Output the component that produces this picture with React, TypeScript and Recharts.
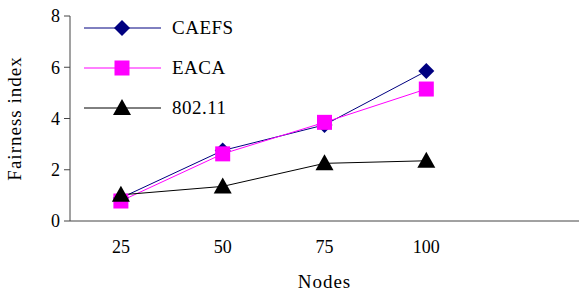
import {
  LineChart,
  Line,
  XAxis,
  YAxis,
} from 'recharts'

const nodes = ['25', '50', '75', '100', '']
const caefs = [0.9, 2.75, 3.75, 5.85, null]
const eaca = [0.78, 2.62, 3.85, 5.15, null]
const ieee80211 = [1.02, 1.35, 2.25, 2.35, null]
const yTicks = [0, 2, 4, 6, 8]
const bandTicks = [0, 1, 2, 3, 4, 5]

const series = [
  { name: 'CAEFS', values: caefs, color: '#000080', shape: 'diamond' },
  { name: 'EACA', values: eaca, color: '#ff00ff', shape: 'square' },
  { name: '802.11', values: ieee80211, color: '#000000', shape: 'triangle' },
]

const data = nodes.map((n, i) => ({
  nodes: n,
  CAEFS: caefs[i],
  EACA: eaca[i],
  '802.11': ieee80211[i],
}))

const FONT = '"Liberation Serif", "Times New Roman", Tinos, "DejaVu Serif", serif'

const Marker = ({ cx, cy, shape, color }: any) => {
  if (cx == null || cy == null) return null
  if (shape === 'diamond') {
    const r = 8
    return (
      <polygon
        points={`${cx},${cy - r} ${cx + r},${cy} ${cx},${cy + r} ${cx - r},${cy}`}
        fill={color}
      />
    )
  }
  if (shape === 'square') {
    const s = 7.5
    return <rect x={cx - s} y={cy - s} width={s * 2} height={s * 2} fill={color} />
  }
  const w = 9
  return (
    <polygon
      points={`${cx},${cy - 9} ${cx + w},${cy + 7} ${cx - w},${cy + 7}`}
      fill={color}
    />
  )
}

const LegendBox = () => (
  <div style={{ position: 'absolute', left: 84, top: 8, fontFamily: FONT }}>
    {series.map((s) => (
      <div
        key={s.name}
        style={{
          display: 'flex',
          alignItems: 'center',
          height: 40,
        }}
      >
        <svg width={80} height={20}>
          <line x1={0} y1={10} x2={77} y2={10} stroke={s.color} strokeWidth={1} />
          <Marker cx={38} cy={10} shape={s.shape} color={s.color} />
        </svg>
        <span style={{ fontSize: 19, marginLeft: 8, color: '#000', letterSpacing: 0.5 }}>{s.name}</span>
      </div>
    ))}
  </div>
)

const App = () => {
  return (
    <div
      style={{
        position: 'absolute',
        left: 0,
        top: 0,
        width: 587,
        height: 293,
        background: '#fff',
        fontFamily: FONT,
      }}
    >
      <LineChart
        width={587}
        height={293}
        data={data}
        margin={{ top: 16, right: 8, bottom: 0, left: 0 }}
        style={{ fontFamily: FONT }}
      >
        <XAxis
          xAxisId="axis0"
          type="number"
          domain={[0, 5]}
          ticks={bandTicks}
          tick={false}
          tickSize={7}
          height={1}
          stroke="#444"
          allowDataOverflow
        />
        <XAxis
          xAxisId="labels"
          dataKey="nodes"
          scale="band"
          axisLine={false}
          tickLine={false}
          tickMargin={12}
          height={71}
          tick={{ fill: '#000', fontSize: 18, fontFamily: FONT }}
          label={{
            value: 'Nodes',
            position: 'insideBottom',
            offset: 5,
            style: { fill: '#000', fontSize: 19, letterSpacing: 1, fontFamily: FONT },
          }}
        />
        <YAxis
          domain={[0, 8]}
          ticks={yTicks}
          width={70}
          tickSize={6}
          tickMargin={4}
          stroke="#444"
          tick={{ fill: '#000', fontSize: 18, fontFamily: FONT }}
          label={{
            value: 'Fairness index',
            angle: -90,
            position: 'insideLeft',
            offset: 14,
            style: { textAnchor: 'middle', fill: '#000', fontSize: 19, letterSpacing: 1, fontFamily: FONT },
          }}
        />
        {series.map((s) => (
          <Line
            key={s.name}
            xAxisId="labels"
            dataKey={s.name}
            stroke={s.color}
            strokeWidth={1}
            isAnimationActive={false}
            dot={(p: any) => (
              <Marker key={`${s.name}-${p.index}`} cx={p.cx} cy={p.cy} shape={s.shape} color={s.color} />
            )}
            activeDot={false}
          />
        ))}
      </LineChart>
      <LegendBox />
    </div>
  )
}

export default App
